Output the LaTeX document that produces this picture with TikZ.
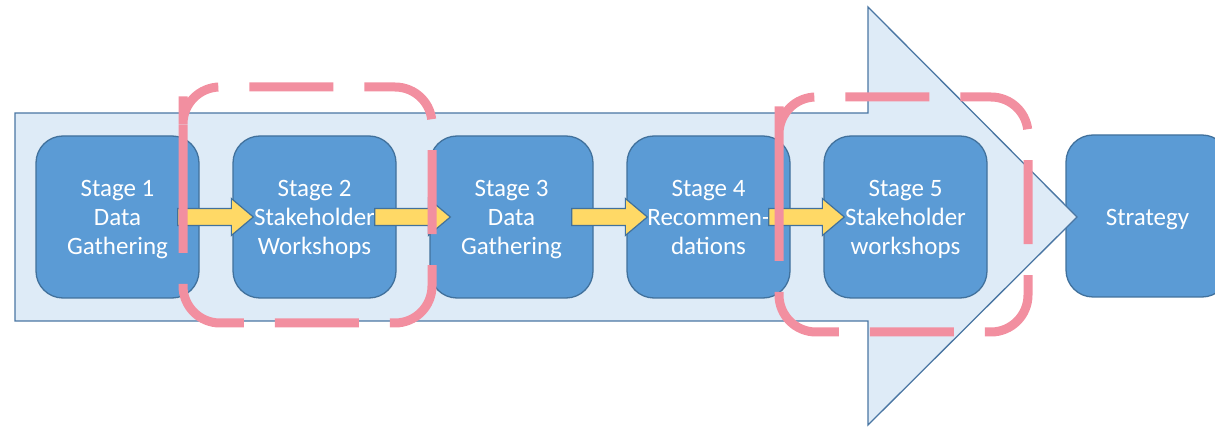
\documentclass[tikz,border=0pt]{standalone}
\usepackage{fontspec}
\setmainfont{Carlito}
\usetikzlibrary{calc}

\definecolor{boxblue}{HTML}{5B9BD5}
\definecolor{boxedge}{HTML}{41719C}
\definecolor{flowfill}{HTML}{DEEBF7}
\definecolor{flowedge}{HTML}{4A76A3}
\definecolor{linkfill}{HTML}{FFD966}
\definecolor{hilite}{HTML}{F28FA0}

\tikzset{
  stagebox/.style={rectangle, rounded corners=27pt, minimum width=163pt,
    minimum height=162pt, inner sep=0pt, fill=boxblue, draw=boxedge,
    line width=1.3pt, text=white, align=center,
    font=\fontsize{25}{29}\selectfont},
  threelines/.style={text height=84pt, text depth=8pt},
  oneline/.style={text height=28pt, text depth=8pt},
  flowarrow/.style={fill=flowfill, draw=flowedge, line width=1.3pt, line join=miter},
  linkarrow/.style={fill=linkfill, draw=boxedge, line width=1.2pt, line join=miter},
  focusframe/.style={draw=hilite, line width=9pt, rounded corners=37pt,
    dash pattern=on 84pt off 31pt},
}

% block arrow joining two stage boxes
\newcommand\linkstages[2]{%
  \draw[linkarrow] let \p1=($(#1.east)+(-22,0)$), \p2=($(#2.west)+(21,0)$) in
    (\x1,\y1+8.5pt) -- (\x2-22pt,\y1+8.5pt) -- (\x2-22pt,\y1+18.5pt) --
    (\x2,\y1) -- (\x2-22pt,\y1-18.5pt) -- (\x2-22pt,\y1-8.5pt) --
    (\x1,\y1-8.5pt) -- cycle;}

\begin{document}
\begin{tikzpicture}[x=1pt,y=-1pt]
\useasboundingbox (0,0) rectangle (1215,427);
\clip (0,0) rectangle (1215,427);

% final outcome, partly covered by the arrow tip
\node[stagebox, oneline] (st) at (1147.5,216) {Strategy};

% large process arrow
\draw[flowarrow] (15,113) -- (868,113) -- (868,7) -- (1077,217)
  -- (868,425) -- (868,321) -- (15,321) -- cycle;

% stages
\node[stagebox, threelines] (s1) at (117.5,217) {Stage 1\\Data\\Gathering};
\node[stagebox, threelines] (s2) at (314.5,217) {Stage 2\\Stakeholder\\Workshops};
\node[stagebox, threelines] (s3) at (511.5,217) {Stage 3\\Data\\Gathering};
\node[stagebox, threelines] (s4) at (708.5,217) {Stage 4\\Recommen-\\dations};
\node[stagebox, threelines] (s5) at (905.5,217) {Stage 5\\Stakeholder\\workshops};

% links between stages
\linkstages{s1}{s2}
\linkstages{s2}{s3}
\linkstages{s3}{s4}
\linkstages{s4}{s5}

% workshop stages highlighted
\draw[focusframe] (183,132) -- (183,323) -- (432,323) -- (432,87)
  -- (183,87) -- cycle;
\draw[focusframe] (779,140) -- (779,332) -- (1028,332) -- (1028,97)
  -- (779,97) -- cycle;
\end{tikzpicture}
\end{document}
